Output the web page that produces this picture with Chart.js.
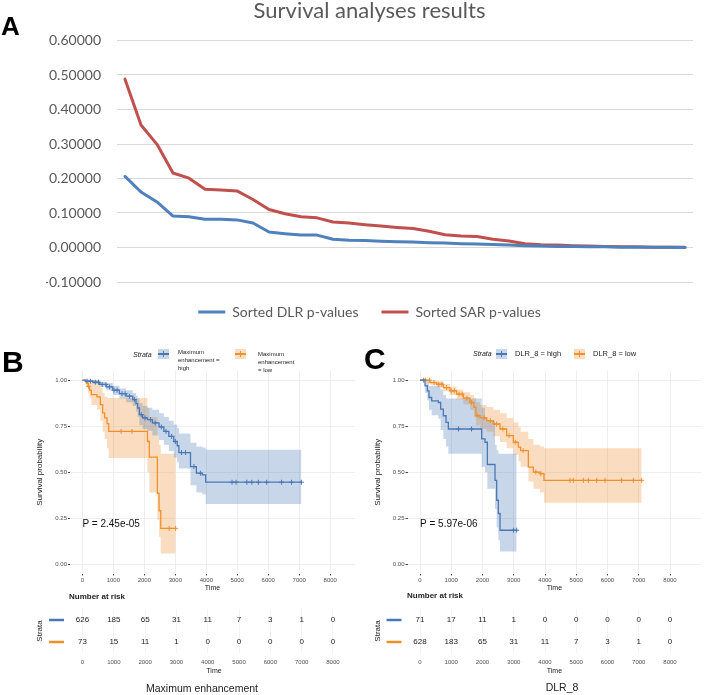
<!DOCTYPE html>
<html>
<head>
<meta charset="utf-8">
<script src="https://cdn.jsdelivr.net/npm/chart.js@4.4.1/dist/chart.umd.min.js"></script>
<style>
    html, body { margin: 0; padding: 0; background: #fff; }
    body { width: 709px; height: 695px; position: relative; overflow: hidden; font-family: "Liberation Sans", Arial, sans-serif; }
    canvas { position: absolute; }
    .lbl { position: absolute; white-space: nowrap; line-height: 1; color: #222; }
    .panel { font-weight: bold; color: #000; }
    .key { position: absolute; width: 11px; height: 10px; }
    .key::before { content: ""; position: absolute; left: 0; right: 0; top: 4px; height: 1.5px; background: currentColor; }
    .key::after { content: ""; position: absolute; left: 5px; width: 1px; top: 2px; height: 6px; background: currentColor; }
    .key.high { background: rgba(74, 120, 181, 0.3); color: #4a78b5; }
    .key.low { background: rgba(240, 144, 45, 0.3); color: #f0902d; }
</style>
</head>
<body>
<canvas id="chartA" width="709" height="330" style="left:0;top:0"></canvas>
<canvas id="chartB" width="360" height="265" style="left:0;top:330px"></canvas>
<canvas id="riskB" width="360" height="100" style="left:0;top:595px"></canvas>
<canvas id="chartC" width="369" height="265" style="left:340px;top:330px"></canvas>
<canvas id="riskC" width="369" height="100" style="left:340px;top:595px"></canvas>

<div class="lbl panel" style="left:1px;top:13px;font-size:26px">A</div>
<div class="lbl panel" style="left:2px;top:347px;font-size:30px">B</div>
<div class="lbl panel" style="left:364px;top:344px;font-size:30px">C</div>

<div class="lbl" style="left:133px;top:351px;font-size:7px;font-style:italic">Strata</div>
<div class="key high" style="left:158px;top:349px"></div>
<div class="lbl" style="left:178px;top:348px;font-size:6px;line-height:8px">Maximum<br>enhancement =<br>high</div>
<div class="key low" style="left:235px;top:349px"></div>
<div class="lbl" style="left:258px;top:350px;font-size:6px;line-height:8px">Maximum<br>enhancement<br>= low</div>

<div class="lbl" style="left:473px;top:350px;font-size:7px;font-style:italic">Strata</div>
<div class="key high" style="left:496px;top:349px"></div>
<div class="lbl" style="left:515px;top:350px;font-size:7.5px">DLR_8 = high</div>
<div class="key low" style="left:574px;top:349px"></div>
<div class="lbl" style="left:593px;top:350px;font-size:7.5px">DLR_8 = low</div>

<div class="lbl" style="left:69px;top:593px;font-size:8px;font-weight:bold">Number at risk</div>
<div class="lbl" style="left:407px;top:592px;font-size:8px;font-weight:bold">Number at risk</div>
<div class="lbl" style="left:102px;width:200px;text-align:center;top:683px;font-size:10.5px">Maximum enhancement</div>
<div class="lbl" style="left:462px;width:200px;text-align:center;top:682px;font-size:10.5px">DLR_8</div>

<script>
// Panel A: sorted p-values of the survival analyses
const rankLabels = [
    "1", "2", "3", "4", "5", "6", "7", "8", "9", "10", "11", "12",
    "13", "14", "15", "16", "17", "18", "19", "20", "21", "22", "23", "24",
    "25", "26", "27", "28", "29", "30", "31", "32", "33", "34", "35", "36"
];
const dlrPValues = [
    0.206, 0.161, 0.132, 0.091, 0.089, 0.082, 0.082, 0.080, 0.071, 0.045, 0.040, 0.036,
    0.036, 0.024, 0.021, 0.020, 0.018, 0.017, 0.016, 0.014, 0.013, 0.011, 0.010, 0.009,
    0.007, 0.005, 0.004, 0.003, 0.003, 0.002, 0.002, 0.001, 0.001, 0.001, 0.0005, 0.0003
];
const sarPValues = [
    0.488, 0.355, 0.299, 0.216, 0.201, 0.169, 0.167, 0.164, 0.139, 0.110, 0.098, 0.089,
    0.086, 0.074, 0.071, 0.066, 0.062, 0.058, 0.055, 0.047, 0.037, 0.033, 0.032, 0.024,
    0.019, 0.011, 0.008, 0.007, 0.005, 0.004, 0.003, 0.002, 0.002, 0.001, 0.001, 0.001
];
const pValueTicks = [-0.1, 0, 0.1, 0.2, 0.3, 0.4, 0.5, 0.6];

// Panels B and C: Kaplan-Meier curves
const timeTicks = [0, 1000, 2000, 3000, 4000, 5000, 6000, 7000, 8000];
const survTicks = [0, 0.25, 0.5, 0.75, 1];

// B, maximum enhancement = high
const bHighTime = [0, 100, 340, 554, 768, 981, 1195, 1410, 1625, 1730, 1785, 1840, 1945, 2100, 2260, 2475, 2630, 2790, 2950, 3060, 3115, 3490, 3680, 3870, 3980, 7070];
const bHighSurv = [1, 0.995, 0.989, 0.977, 0.964, 0.946, 0.927, 0.913, 0.895, 0.873, 0.849, 0.813, 0.795, 0.786, 0.768, 0.746, 0.722, 0.695, 0.667, 0.644, 0.607, 0.531, 0.495, 0.486, 0.446, 0.446];
const bHighUpper = [1, 1, 1, 0.99, 0.985, 0.97, 0.955, 0.945, 0.93, 0.915, 0.90, 0.875, 0.86, 0.85, 0.84, 0.82, 0.80, 0.78, 0.76, 0.74, 0.71, 0.66, 0.64, 0.635, 0.622, 0.622];
const bHighLower = [1, 0.99, 0.98, 0.965, 0.945, 0.92, 0.90, 0.88, 0.86, 0.83, 0.80, 0.755, 0.735, 0.725, 0.70, 0.675, 0.65, 0.615, 0.58, 0.555, 0.52, 0.43, 0.39, 0.38, 0.327, 0.327];
const bHighCensor = [150, 260, 420, 520, 640, 760, 880, 1020, 1120, 1280, 1380, 1520, 1680, 1900, 2020, 2200, 2350, 2550, 2700, 2880, 3000, 3200, 3330, 3600, 3810, 4830, 4960, 5310, 5470, 5680, 5950, 6430, 6750, 7070];

// B, maximum enhancement = low
const bLowTime = [0, 120, 185, 230, 290, 470, 580, 655, 720, 795, 850, 2100, 2160, 2420, 2475, 2530, 3010];
const bLowSurv = [1, 0.986, 0.967, 0.946, 0.922, 0.909, 0.867, 0.822, 0.795, 0.764, 0.722, 0.667, 0.582, 0.386, 0.291, 0.195, 0.195];
const bLowUpper = [1, 1, 1, 1, 1, 0.985, 0.96, 0.93, 0.91, 0.905, 0.904, 0.85, 0.80, 0.70, 0.65, 0.60, 0.60];
const bLowLower = [1, 0.96, 0.93, 0.90, 0.865, 0.84, 0.78, 0.72, 0.68, 0.63, 0.577, 0.50, 0.39, 0.24, 0.15, 0.058, 0.058];
const bLowCensor = [200, 1250, 1600, 2800, 3010];

// C, DLR_8 = high
const cHighTime = [0, 160, 235, 288, 373, 587, 661, 747, 832, 907, 1973, 2080, 2155, 2400, 2453, 2507, 2560, 3093];
const cHighSurv = [1, 0.969, 0.942, 0.906, 0.888, 0.879, 0.843, 0.807, 0.771, 0.735, 0.681, 0.663, 0.542, 0.456, 0.348, 0.276, 0.185, 0.185];
const cHighUpper = [1, 1, 1, 0.97, 0.97, 0.97, 0.95, 0.92, 0.90, 0.90, 0.85, 0.80, 0.78, 0.65, 0.62, 0.60, 0.60, 0.60];
const cHighLower = [1, 0.93, 0.89, 0.84, 0.81, 0.79, 0.73, 0.68, 0.64, 0.60, 0.53, 0.50, 0.41, 0.30, 0.20, 0.13, 0.07, 0.07];
const cHighCensor = [120, 1230, 1650, 2990, 3093];

// C, DLR_8 = low
const cLowTime = [0, 320, 533, 747, 960, 1173, 1387, 1600, 1728, 1792, 1920, 2133, 2347, 2560, 2773, 2987, 3147, 3221, 3467, 3627, 3840, 3968, 7093];
const cLowSurv = [1, 0.987, 0.978, 0.960, 0.942, 0.924, 0.903, 0.879, 0.852, 0.807, 0.795, 0.780, 0.762, 0.735, 0.699, 0.663, 0.636, 0.618, 0.528, 0.501, 0.492, 0.456, 0.456];
const cLowUpper = [1, 1, 0.995, 0.98, 0.965, 0.95, 0.935, 0.92, 0.905, 0.88, 0.865, 0.855, 0.84, 0.82, 0.795, 0.77, 0.745, 0.72, 0.68, 0.65, 0.64, 0.63, 0.63];
const cLowLower = [1, 0.975, 0.962, 0.94, 0.92, 0.895, 0.87, 0.84, 0.80, 0.755, 0.735, 0.72, 0.695, 0.665, 0.63, 0.595, 0.56, 0.53, 0.45, 0.41, 0.39, 0.335, 0.335];
const cLowCensor = [180, 300, 450, 600, 700, 850, 1000, 1100, 1250, 1350, 1500, 1650, 1850, 2050, 2250, 2450, 2650, 2850, 3050, 3300, 3707, 3867, 4800, 4907, 5227, 5387, 5653, 5920, 6453, 6827, 7093];

// numbers at risk at each time tick
const bRiskHigh = [626, 185, 65, 31, 11, 7, 3, 1, 0];
const bRiskLow = [73, 15, 11, 1, 0, 0, 0, 0, 0];
const cRiskHigh = [71, 17, 11, 1, 0, 0, 0, 0, 0];
const cRiskLow = [628, 183, 65, 31, 11, 7, 3, 1, 0];


const FONT = '"Liberation Sans", Arial, sans-serif';
const HIGH_COLOR = "#4a78b5";
const LOW_COLOR = "#f0902d";
const HIGH_FILL = "rgba(74, 120, 181, 0.3)";
const LOW_FILL = "rgba(240, 144, 45, 0.3)";


function toPoints(times, values) {
    return times.map(function (t, i) {
        return { x: t, y: values[i] };
    });
}


function survivalAt(times, surv, t) {
    let s = surv[0];
    for (let i = 0; i < times.length; i++) {
        if (times[i] <= t) {
            s = surv[i];
        }
    }
    return s;
}


function bandDatasets(curve, fillColor) {
    return [
        {
            data: toPoints(curve.time, curve.upper),
            stepped: true,
            borderWidth: 0,
            borderColor: "rgba(0,0,0,0)",
            pointRadius: 0,
            fill: "+1",
            backgroundColor: fillColor,
            order: 3
        },
        {
            data: toPoints(curve.time, curve.lower),
            stepped: true,
            borderWidth: 0,
            borderColor: "rgba(0,0,0,0)",
            pointRadius: 0,
            fill: false,
            order: 3
        }
    ];
}


function curveDataset(curve, color) {
    return {
        data: toPoints(curve.time, curve.surv),
        stepped: true,
        borderColor: color,
        borderWidth: 1.3,
        pointRadius: 0,
        fill: false,
        order: 2
    };
}


function censorDataset(curve, color) {
    return {
        data: curve.censor.map(function (t) {
            return { x: t, y: survivalAt(curve.time, curve.surv, t) };
        }),
        showLine: false,
        pointStyle: "cross",
        pointRadius: 2.5,
        pointBorderWidth: 1,
        borderColor: color,
        order: 1
    };
}


function timeAxis(cfg, extra) {
    return Object.assign({
        type: "linear",
        min: -400,
        max: cfg.xMax,
        afterBuildTicks: function (scale) {
            scale.ticks = timeTicks.map(function (v) {
                return { value: v };
            });
        },
        border: { display: false },
        ticks: {
            color: "#4d4d4d",
            font: { size: 6, family: FONT },
            maxRotation: 0,
            autoSkip: false,
            callback: function (v) {
                return String(v);
            }
        }
    }, extra);
}


function buildSurvivalChart(canvasId, cfg) {
    const pValuePlugin = {
        id: "pValue",
        afterDatasetsDraw: function (chart) {
            const ctx = chart.ctx;
            ctx.save();
            ctx.font = "10px " + FONT;
            ctx.fillStyle = "#111";
            ctx.textBaseline = "middle";
            ctx.fillText(
                cfg.pValue,
                chart.scales.x.getPixelForValue(0),
                chart.scales.y.getPixelForValue(0.22)
            );
            ctx.restore();
        }
    };

    const xAxis = timeAxis(cfg, {
        afterFit: function (scale) {
            scale.height = 21.5;
        },
        grid: { color: "#eeeeee", tickColor: "#444", tickLength: 2 },
        title: {
            display: true,
            text: "Time",
            color: "#222",
            font: { size: 7, family: FONT },
            padding: { top: 0, bottom: 2.5 }
        }
    });
    xAxis.ticks.padding = 1;

    new Chart(document.getElementById(canvasId), {
        type: "line",
        data: {
            datasets: [].concat(
                bandDatasets(cfg.high, HIGH_FILL),
                bandDatasets(cfg.low, LOW_FILL),
                [curveDataset(cfg.high, HIGH_COLOR), curveDataset(cfg.low, LOW_COLOR)],
                [censorDataset(cfg.high, HIGH_COLOR), censorDataset(cfg.low, LOW_COLOR)]
            )
        },
        options: {
            responsive: false,
            animation: false,
            events: [],
            layout: { padding: { top: 41, right: cfg.padRight, left: 0, bottom: 0 } },
            plugins: {
                legend: { display: false },
                tooltip: { enabled: false }
            },
            scales: {
                x: xAxis,
                y: {
                    min: -0.05,
                    max: 1.05,
                    afterBuildTicks: function (scale) {
                        scale.ticks = survTicks.map(function (v) {
                            return { value: v };
                        });
                    },
                    afterFit: function (scale) {
                        scale.width = cfg.axisWidth;
                    },
                    border: { display: false },
                    grid: { color: "#eeeeee", tickColor: "#444", tickLength: 2 },
                    ticks: {
                        color: "#4d4d4d",
                        font: { size: 6, family: FONT },
                        padding: 1,
                        callback: function (v) {
                            return v.toFixed(2);
                        }
                    },
                    title: {
                        display: true,
                        text: "Survival probability",
                        color: "#222",
                        font: { size: 8, family: FONT },
                        padding: { top: cfg.titlePad, bottom: 0 }
                    }
                }
            }
        },
        plugins: [pValuePlugin]
    });
}


function buildRiskTable(canvasId, cfg) {
    const rows = [
        { counts: cfg.highRisk, color: HIGH_COLOR, row: 1 },
        { counts: cfg.lowRisk, color: LOW_COLOR, row: 2 }
    ];

    const riskPlugin = {
        id: "riskTable",
        afterDraw: function (chart) {
            const ctx = chart.ctx;
            const x = chart.scales.x;
            const y = chart.scales.y;
            const left = chart.chartArea.left;

            ctx.save();
            ctx.font = "8px " + FONT;
            ctx.textAlign = "center";
            ctx.textBaseline = "middle";

            rows.forEach(function (r) {
                const py = y.getPixelForValue(r.row);

                ctx.strokeStyle = r.color;
                ctx.lineWidth = 2.5;
                ctx.beginPath();
                ctx.moveTo(left - 21, py);
                ctx.lineTo(left - 6, py);
                ctx.stroke();

                ctx.fillStyle = "#222";
                r.counts.forEach(function (n, i) {
                    ctx.fillText(String(n), x.getPixelForValue(timeTicks[i]), py);
                });
            });

            ctx.restore();
        }
    };

    const xAxis = timeAxis(cfg, {
        afterFit: function (scale) {
            scale.height = 42;
        },
        grid: { color: "#f3f3f3", drawTicks: false },
        title: {
            display: true,
            text: "Time",
            color: "#222",
            font: { size: 7, family: FONT },
            padding: { top: 0, bottom: 19.8 }
        }
    });
    xAxis.ticks.padding = 6;

    new Chart(document.getElementById(canvasId), {
        type: "line",
        data: { datasets: [] },
        options: {
            responsive: false,
            animation: false,
            events: [],
            layout: { padding: { top: 14, right: cfg.padRight, left: 0, bottom: 0 } },
            plugins: {
                legend: { display: false },
                tooltip: { enabled: false }
            },
            scales: {
                x: xAxis,
                y: {
                    type: "linear",
                    min: 0.5,
                    max: 2.5,
                    reverse: true,
                    afterFit: function (scale) {
                        scale.width = cfg.axisWidth;
                    },
                    border: { display: false },
                    grid: { display: false },
                    ticks: { display: false },
                    title: {
                        display: true,
                        text: "Strata",
                        color: "#222",
                        font: { size: 8, family: FONT },
                        padding: { top: cfg.titlePad, bottom: 0 }
                    }
                }
            }
        },
        plugins: [riskPlugin]
    });
}


function initializePValueChart() {
    new Chart(document.getElementById("chartA"), {
        type: "line",
        data: {
            labels: rankLabels,
            datasets: [
                {
                    label: "Sorted DLR p-values",
                    data: dlrPValues,
                    borderColor: "#4F81BD",
                    backgroundColor: "#4F81BD",
                    borderWidth: 3,
                    pointRadius: 0,
                    pointStyle: "line",
                    tension: 0,
                    borderJoinStyle: "round",
                    borderCapStyle: "round"
                },
                {
                    label: "Sorted SAR p-values",
                    data: sarPValues,
                    borderColor: "#C0504D",
                    backgroundColor: "#C0504D",
                    borderWidth: 3,
                    pointRadius: 0,
                    pointStyle: "line",
                    tension: 0,
                    borderJoinStyle: "round",
                    borderCapStyle: "round"
                }
            ]
        },
        options: {
            responsive: false,
            animation: false,
            events: [],
            layout: { padding: { left: 46, right: 16, top: 0, bottom: 1 } },
            plugins: {
                title: {
                    display: true,
                    text: "Survival analyses results",
                    color: "#595959",
                    font: { family: "Lato", size: 22, weight: "normal", lineHeight: 1 },
                    padding: { top: 0, bottom: 18.5 }
                },
                legend: {
                    position: "bottom",
                    labels: {
                        usePointStyle: true,
                        pointStyle: "line",
                        pointStyleWidth: 27,
                        padding: 23,
                        color: "#595959",
                        font: { family: "Lato", size: 14 }
                    }
                },
                tooltip: { enabled: false }
            },
            scales: {
                x: { display: false, offset: true },
                y: {
                    min: -0.1,
                    max: 0.6,
                    afterBuildTicks: function (scale) {
                        scale.ticks = pValueTicks.map(function (v) {
                            return { value: v };
                        });
                    },
                    afterFit: function (scale) {
                        scale.width = 71;
                    },
                    border: { display: false },
                    grid: { color: "#d9d9d9", drawTicks: false },
                    ticks: {
                        padding: 16,
                        color: "#595959",
                        font: { family: "Lato", size: 14 },
                        callback: function (v) {
                            return v.toFixed(5);
                        }
                    }
                }
            }
        }
    });
}


initializePValueChart();

buildSurvivalChart("chartB", {
    high: { time: bHighTime, surv: bHighSurv, upper: bHighUpper, lower: bHighLower, censor: bHighCensor },
    low: { time: bLowTime, surv: bLowSurv, upper: bLowUpper, lower: bLowLower, censor: bLowCensor },
    pValue: "P = 2.45e-05",
    xMax: 8800,
    axisWidth: 70,
    padRight: 2,
    titlePad: 35
});
buildRiskTable("riskB", {
    highRisk: bRiskHigh,
    lowRisk: bRiskLow,
    xMax: 8800,
    axisWidth: 70,
    padRight: 2,
    titlePad: 35
});

buildSurvivalChart("chartC", {
    high: { time: cHighTime, surv: cHighSurv, upper: cHighUpper, lower: cHighLower, censor: cHighCensor },
    low: { time: cLowTime, surv: cLowSurv, upper: cLowUpper, lower: cLowLower, censor: cLowCensor },
    pValue: "P = 5.97e-06",
    xMax: 9000,
    axisWidth: 67.5,
    padRight: 7.75,
    titlePad: 33
});
buildRiskTable("riskC", {
    highRisk: cRiskHigh,
    lowRisk: cRiskLow,
    xMax: 9000,
    axisWidth: 67.5,
    padRight: 7.75,
    titlePad: 33
});
</script>
</body>
</html>
